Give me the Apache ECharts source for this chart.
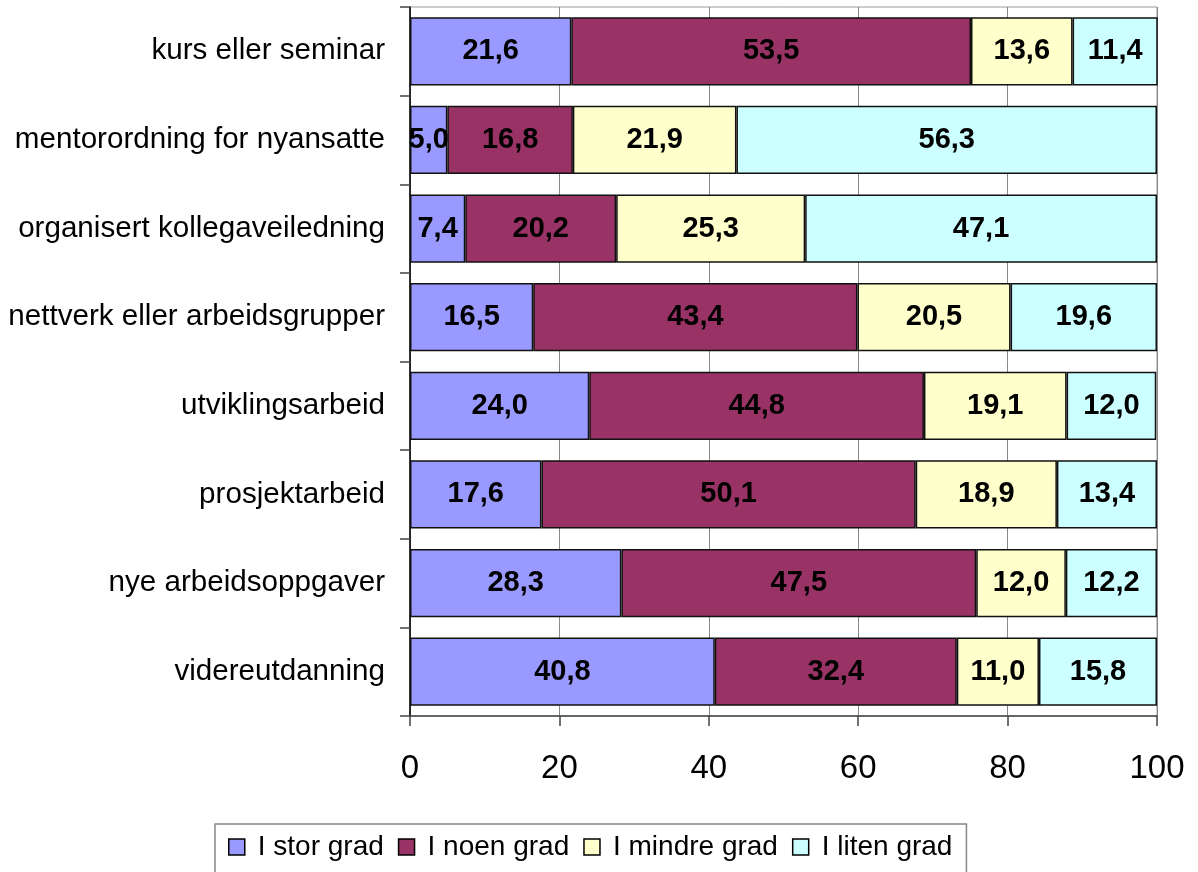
<!DOCTYPE html>
<html><head><meta charset="utf-8">
<script src="https://cdn.jsdelivr.net/npm/echarts@6/dist/echarts.min.js"></script>
<style>html,body{margin:0;padding:0;background:#fff}#c{width:1198px;height:872px}</style>
</head><body><div id="c"></div>
<script>
const categories = ["kurs eller seminar","mentorordning for nyansatte","organisert kollegaveiledning","nettverk eller arbeidsgrupper","utviklingsarbeid","prosjektarbeid","nye arbeidsoppgaver","videreutdanning"];
const seriesNames = ["I stor grad","I noen grad","I mindre grad","I liten grad"];
const storGrad = [21.6,5.0,7.4,16.5,24.0,17.6,28.3,40.8];
const noenGrad = [53.5,16.8,20.2,43.4,44.8,50.1,47.5,32.4];
const mindreGrad = [13.6,21.9,25.3,20.5,19.1,18.9,12.0,11.0];
const litenGrad = [11.4,56.3,47.1,19.6,12.0,13.4,12.2,15.8];
const xTicks = [0,20,40,60,80,100];
const colors = ["#9999FF","#993366","#FFFFCC","#CCFFFF"];
const values = [storGrad,noenGrad,mindreGrad,litenGrad];

const chart = echarts.init(document.getElementById('c'));
chart.setOption({
  animation:false,
  textStyle:{fontFamily:"Liberation Sans, Arial, sans-serif"},
  grid:{left:410,right:41,top:7,bottom:156,show:true,borderColor:"#999",borderWidth:1},
  legend:{
    data:seriesNames.map((n,i)=>({name:n,itemStyle:{color:colors[i],borderColor:"#000",borderWidth:1.5}})),
    left:215,top:824,
    orient:"horizontal",
    itemWidth:16,itemHeight:16,itemGap:14,
    padding:[9,14,20,13],
    borderColor:"#888",borderWidth:1.5,
    textStyle:{fontSize:28,color:"#000",padding:[0,0,0,8]},
    icon:"rect"
  },
  xAxis:{type:"value",min:0,max:100,interval:20,
    axisLine:{show:true,lineStyle:{color:"#444",width:1.5}},
    axisTick:{show:true,length:10,lineStyle:{color:"#444",width:1.5}},
    axisLabel:{fontSize:33,color:"#000",margin:36,formatter:v=>xTicks.includes(v)?String(v):""},
    splitLine:{show:true,lineStyle:{color:"#888",width:1}}
  },
  yAxis:{type:"category",data:categories,inverse:true,
    axisLine:{show:true,lineStyle:{color:"#000",width:1.5}},
    axisTick:{show:true,length:10,lineStyle:{color:"#444",width:1.5}},
    axisLabel:{fontSize:29.6,color:"#000",margin:25}
  },
  series:values.map((d,i)=>({
    name:seriesNames[i],type:"bar",stack:"all",data:d,
    barCategoryGap:"23%",
    itemStyle:{color:colors[i],borderColor:"#111",borderWidth:1.5},
    label:{show:true,position:"inside",fontSize:29,fontWeight:"bold",color:"#000",
      formatter:p=>p.value.toFixed(1).replace(".",",")}
  }))
});
</script></body></html>
